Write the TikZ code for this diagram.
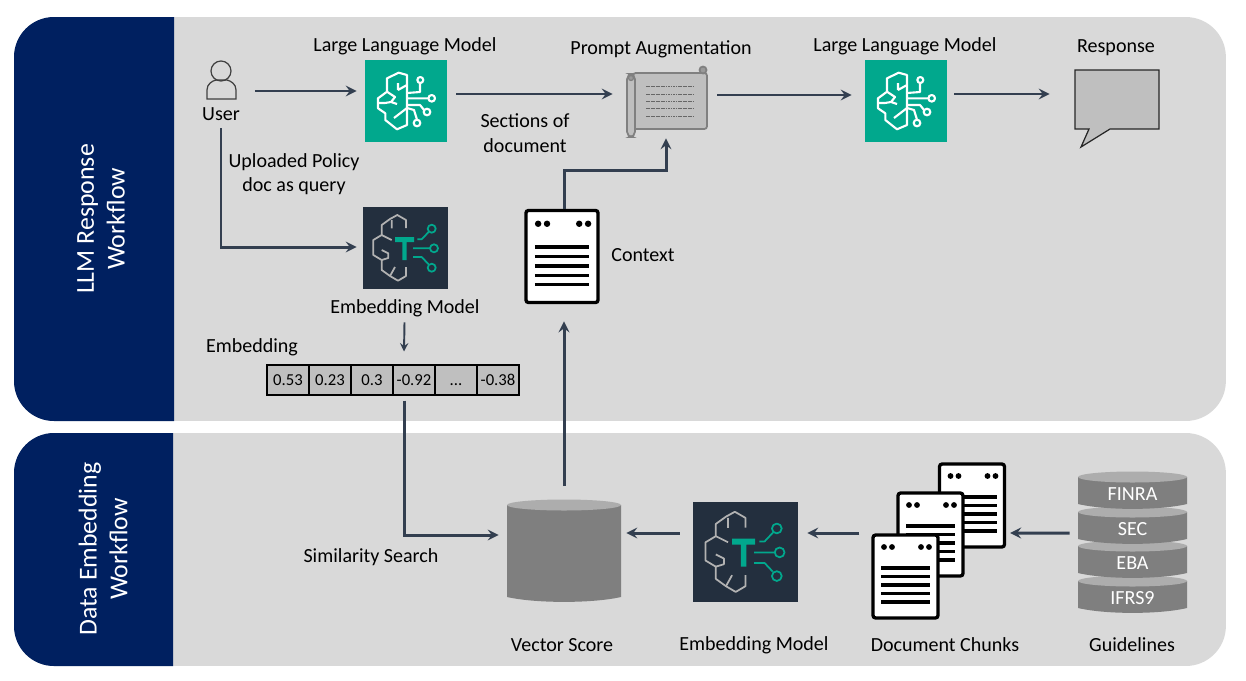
\documentclass[tikz,border=0pt]{standalone}
\usepackage{fontspec}
\setmainfont{Carlito}
\usetikzlibrary{positioning}
\definecolor{navyband}{HTML}{002060}
\definecolor{panelgray}{HTML}{D9D9D9}
\definecolor{slateline}{HTML}{333F50}
\definecolor{tealbox}{HTML}{01A88D}
\definecolor{inkbox}{HTML}{232F3E}
\definecolor{cellgray}{HTML}{BFBFBF}
\definecolor{drumgray}{HTML}{7F7F7F}
\definecolor{capgray}{HTML}{ADADAD}

\begin{document}
\begin{tikzpicture}[
    x=0.02cm,y=-0.02cm,
    font=\fontsize{11.4}{14}\selectfont,
    panel/.style={rectangle,fill=panelgray,rounded corners=0.8cm,minimum width=24.24cm},
    band/.style={fill=navyband,rounded corners=0.8cm},
    bandlabel/.style={rotate=90,align=center,text=white,font=\fontsize{14.7}{17.5}\selectfont},
    label/.style={align=center,text=black},
    arrow/.style={->,>=stealth,line width=1.7pt,draw=slateline},
    thinarrow/.style={->,>=stealth,line width=1.1pt,draw=slateline},
    llmbox/.style={rectangle,fill=tealbox,minimum size=1.64cm,inner sep=0pt},
    embedbox/.style={rectangle,fill=inkbox,minimum width=1.7cm,minimum height=1.64cm,inner sep=0pt},
    ghost/.style={rectangle,inner sep=0pt},
    cell/.style={rectangle,draw=black,fill=cellgray,line width=0.6pt,minimum width=0.84cm,minimum height=0.6cm,inner sep=0pt,text height=6.4pt,text depth=0pt,font=\fontsize{9.5}{10}\selectfont},
    docbox/.style={rectangle,draw=black,fill=white,line width=1.9pt,rounded corners=1.5pt,minimum width=1.3cm,minimum height=1.66cm,inner sep=0pt,transform shape},
    docpage/.pic={
        \node[docbox] (-box) at (0,0) {};
        \foreach \dotx in {-21.5,-13.5,15.5,23.5}
            \fill[black] (\dotx,-29.5) circle (2.9);
        \foreach \liney in {-8.5,0,8.5,17,25.5}
            \draw[black,line width=1.8pt] (-24.5,\liney) -- (24.5,\liney);
    },
    drumpart/.pic={
        \fill[drumgray] (-54.5,0) -- (-54.5,#1) .. controls (-27,#1+6.5) and (27,#1+6.5) .. (54.5,#1) -- (54.5,0) -- cycle;
        \fill[capgray] (0,0) ellipse [x radius=54.5,y radius=5.5];
    },
    llmlogo/.pic={
        \begin{scope}[white,line width=1.2pt,line join=round,fill=none]
        \draw (42,15) -- (33.7,12.7) -- (22,18.3) -- (22,31.7) -- (13,38.3) -- (13,48.3) -- (20.3,53.3) -- (20.3,60) -- (32,69.3) -- (42,65) -- cycle;
        \draw (42,33) -- (55,32) -- (55,23) (55.3,20) circle (3);
        \draw (42,38.3) -- (63.4,38.3) (66.7,38.3) circle (3.3);
        \draw (42,45) -- (55,45) -- (59,50) (62,52) circle (3.3);
        \draw (29,58) -- (42,48) -- (49,50) -- (52,59.7) (52,63) circle (3.3);
        \draw (22,31.7) -- (30,37) -- (26,42) -- (32,44) (13,43) -- (20,43) -- (26,42);
        \draw (33,30) -- (42,25) (33,23) -- (33,30);
        \end{scope}
    },
    embedlogo/.pic={
        \begin{scope}[line join=round]
        \draw[gray!60!white,line width=1pt] (43,21) -- (43,13) -- (34.3,8) -- (27,12) -- (18.7,18) -- (18.7,28) -- (10.3,33) -- (10.3,48) -- (18.7,53) -- (18.7,63) -- (27,69) -- (35,73.7) -- (43,69) -- (43,60);
        \draw[gray!60!white,line width=1pt] (18.7,28) -- (28.7,33) (28.7,13) -- (28.7,21.3) (18.7,43) -- (25.3,46.3) -- (25.3,51) -- (18.7,53) (27,69) -- (32,60);
        \fill[tealbox] (32,30) rectangle (51,35) (39.3,35) rectangle (43.7,53);
        \draw[tealbox,line width=1pt] (54.3,32.3) -- (58.7,32.3) -- (65.3,25.3) (68.7,21.7) circle (4);
        \draw[tealbox,line width=1pt] (50,41.3) -- (67,41.3) (71,41.3) circle (4);
        \draw[tealbox,line width=1pt] (50,50) -- (58.7,50) -- (65.3,57) (68.7,60.7) circle (4);
        \end{scope}
    }
]
\useasboundingbox (0,0) rectangle (1246,680);

% panels
\node[panel,minimum height=8.08cm] (respanel) at (620,219) {};
\node[panel,minimum height=4.66cm] (datapanel) at (620,549.5) {};
\fill[band] (174,17) -- (14,17) -- (14,421) [sharp corners] -- (174,421) -- cycle;
\fill[band] (173,433) -- (14,433) -- (14,666) [sharp corners] -- (173,666) -- cycle;
\node[bandlabel] (resname) at (101,219) {LLM Response\\Workflow};
\node[bandlabel] (dataname) at (103,549) {Data Embedding\\Workflow};

% user
\node[ghost,minimum width=0.58cm,minimum height=0.6cm] (usericon) at (221,85) {};
\draw[black!75,line width=0.7pt] (221,71) circle (10);
\draw[black!75,line width=0.7pt] (207,99) -- (207,90) .. controls (207,84) and (212,81) .. (216,80) -- (227,80) .. controls (231,81) and (236,84) .. (236,90) -- (236,99) -- cycle;
\node[label] (userlabel) at (221,114) {User};

% top row
\node[llmbox] (llma) at (406,101) {};
\pic at (365,60) {llmlogo};
\node[label] (llmaname) at (405,46) {Large Language Model};
\node[ghost,minimum width=1.6cm,minimum height=1.4cm] (prompt) at (667,102) {};
\draw[black!50,fill=cellgray,line width=1pt,rounded corners=1.5pt] (633,73) rectangle (707,129);
\draw[black!50,fill=black!40,line width=1pt] (703,70) circle (3.5);
\draw[black!50,fill=cellgray,line width=1pt,rounded corners=3pt] (627,74) rectangle (635,137);
\draw[black!50,fill=black!40,line width=0.7pt] (631,78) circle (2.5);
\foreach \liney in {86,94,101,108,116}
    \draw[black!60,line width=0.4pt,dash pattern=on 1pt off 0.4pt] (646,\liney) -- (694,\liney);
\node[label] (promptname) at (661,49) {Prompt Augmentation};
\node[llmbox] (llmb) at (906,101) {};
\pic at (865,60) {llmlogo};
\node[label] (llmbname) at (905,46) {Large Language Model};
\node[ghost,minimum width=1.68cm,minimum height=1.18cm] (bubble) at (1117,99.5) {};
\draw[black!85,fill=cellgray,line width=0.7pt] (1075,70) -- (1159,70) -- (1159,129) -- (1110,129) -- (1081,147) -- (1089,129) -- (1075,129) -- cycle;
\node[label] (bubblename) at (1116,48) {Response};
\node[label] (sections) at (525,133) {Sections of\\document};
\node[label] (uploaded) at (294,174) {Uploaded Policy\\doc as query};

% query side
\node[embedbox] (embeda) at (405.5,248) {};
\pic at (363,207) {embedlogo};
\node[label] (embedaname) at (405,308) {Embedding Model};
\pic (ctx) [scale=1.11] at (562,256.5) {docpage};
\node[label] (ctxname) at (643,255) {Context};
\node[label] (vecname) at (252,347) {Embedding};
\node[cell] (va) at (288,380) {0.53};
\node[cell] (vb) at (330,380) {0.23};
\node[cell] (vc) at (372,380) {0.3};
\node[cell] (vd) at (414,380) {-0.92};
\node[cell] (ve) at (456,380) {...};
\node[cell] (vf) at (498,380) {-0.38};

% data side
\node[ghost,minimum width=2.28cm,minimum height=2.06cm] (store) at (564,550) {};
\pic[xscale=1.046] at (564,505) {drumpart=92};
\node[label] (storename) at (562,645) {Vector Score};
\node[label] (simname) at (371,557) {Similarity Search};
\node[embedbox,minimum width=2.1cm,minimum height=2cm] (embedb) at (745.5,552) {};
\pic[scale=1.22] at (693,502) {embedlogo};
\node[label] (embedbname) at (754,645) {Embedding Model};
\pic (chunkc) at (972,505.5) {docpage};
\pic (chunkb) at (930.5,534.5) {docpage};
\pic (chunka) at (905.5,576.5) {docpage};
\node[label] (chunkname) at (945,645) {Document Chunks};
\node[ghost,minimum width=2.18cm,minimum height=2.9cm] (guide) at (1132.5,544) {};
\pic at (1132.5,581) {drumpart=27};
\pic at (1132.5,546) {drumpart=27};
\pic at (1132.5,512) {drumpart=27};
\pic at (1132.5,477) {drumpart=27};
\node[label,text=white,font=\fontsize{11.4}{12}\selectfont] (finra) at (1132.5,494) {FINRA};
\node[label,text=white,font=\fontsize{11.4}{12}\selectfont] (sec) at (1132.5,529) {SEC};
\node[label,text=white,font=\fontsize{11.4}{12}\selectfont] (eba) at (1132.5,563) {EBA};
\node[label,text=white,font=\fontsize{11.4}{12}\selectfont] (ifrs) at (1132.5,598) {IFRS9};
\node[label] (guidename) at (1132,645) {Guidelines};

% connectors
\draw[arrow] ([shift={(19,6)}]usericon.east) -- ([shift={(-8,-10)}]llma.west);
\draw[arrow] ([shift={(9,-7)}]llma.east) -- ([shift={(-14,-8)}]prompt.west);
\draw[arrow] ([shift={(10,-7)}]prompt.east) -- ([shift={(-13,-6)}]llmb.west);
\draw[arrow] ([shift={(7,-7)}]llmb.east) -- ([shift={(-25,-5.5)}]bubble.west);
\draw[arrow] ([shift={(0,28)}]usericon.south) |- ([shift={(-6,-1)}]embeda.west);
\draw[thinarrow] ([shift={(-1,33)}]embeda.south) -- ([shift={(-10,-13)}]vd.north);
\draw[arrow] ([shift={(-10,5)}]vd.south) |- ([shift={(-8,-15)}]store.west);
\draw[arrow] ([shift={(0,-12)}]store.north) -- ([shift={(2,17)}]ctx-box.south);
\draw[arrow] ([shift={(2,0)}]ctx-box.north) -- ++(0,-38) -| ([shift={(-1,1)}]prompt.south);
\draw[arrow] ([shift={(-13,-19)}]embedb.west) -- ([shift={(5,-17)}]store.east);
\draw[arrow] ([shift={(-12,-43.5)}]chunka-box.west) -- ([shift={(9,-19)}]embedb.east);
\draw[arrow] ([shift={(-8,-11)}]guide.west) -- ([shift={(4,27.5)}]chunkc-box.east);
\end{tikzpicture}
\end{document}
